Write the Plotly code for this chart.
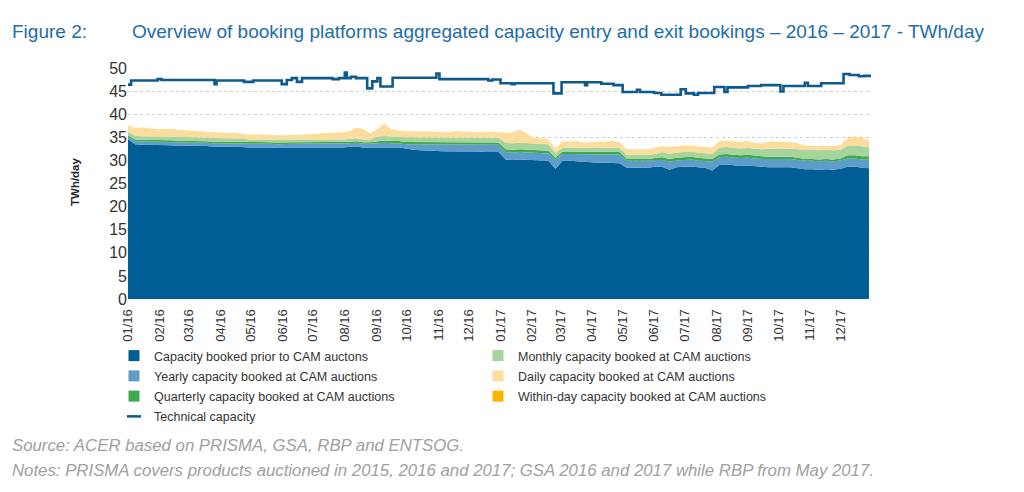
import pandas as pd
import plotly.graph_objects as go

# ---------------- data ----------------
week_start = "2016-01-01"
n_weeks = 105
dates = pd.date_range(week_start, periods=n_weeks, freq="7D")

prior = [34.6, 33.5, 33.4, 33.4, 33.3, 33.3, 33.3, 33.2, 33.2, 33.2, 33.1, 33.1, 33.0,
         33.0, 33.0, 33.0, 32.9, 32.8, 32.8, 32.8, 32.8, 32.7, 32.8, 32.8, 32.8, 32.8,
         32.8, 32.8, 32.8, 32.8, 32.8, 32.9, 33.0, 32.8, 32.8, 32.8, 32.9, 32.8, 32.8,
         32.6, 32.3, 32.2, 32.2, 32.1, 32.0, 32.0, 32.0, 31.9, 31.9, 31.9, 31.8, 31.8,
         31.8, 30.2, 30.1, 30.2, 30.1, 30.0, 30.0, 29.9, 28.2, 29.9, 29.9, 29.8, 29.6,
         29.5, 29.5, 29.5, 29.5, 29.4, 28.4, 28.4, 28.3, 28.4, 28.6, 28.6, 28.0, 28.5,
         28.6, 28.7, 28.5, 28.4, 27.8, 29.0, 29.1, 28.9, 28.8, 28.9, 28.7, 28.6, 28.5,
         28.5, 28.4, 28.5, 28.3, 28.1, 28.1, 28.0, 28.1, 28.0, 28.2, 28.6, 28.7, 28.4,
         28.3]

yearly = [0.5, 0.7, 0.7, 0.7, 0.7, 0.7, 0.7, 0.7, 0.7, 0.7, 0.7, 0.7, 0.7,
          0.7, 0.7, 0.7, 0.7, 0.8, 0.8, 0.8, 0.8, 0.8, 0.8, 0.8, 0.8, 0.8,
          0.8, 0.8, 0.8, 0.8, 0.8, 0.8, 0.8, 0.8, 0.8, 0.9, 0.9, 0.9, 0.9,
          0.9, 1.2, 1.3, 1.3, 1.4, 1.4, 1.4, 1.5, 1.5, 1.5, 1.5, 1.6, 1.6,
          1.6, 1.6, 1.6, 1.6, 1.6, 1.6, 1.6, 1.6, 2.0, 1.5, 1.5, 1.6, 1.8,
          1.9, 1.9, 1.9, 1.9, 1.9, 1.5, 1.5, 1.5, 1.5, 1.5, 1.5, 1.7, 1.5,
          1.5, 1.5, 1.5, 1.5, 1.9, 1.7, 1.7, 1.7, 1.7, 1.7, 1.7, 1.7, 1.8,
          1.8, 1.8, 1.8, 1.8, 1.8, 1.8, 1.8, 1.8, 1.8, 1.8, 1.8, 1.7, 1.8,
          1.9]

quarterly = [0.35, 0.35, 0.35, 0.35, 0.35, 0.35, 0.35, 0.35, 0.35, 0.35, 0.35, 0.35, 0.35,
             0.35, 0.35, 0.35, 0.35, 0.35, 0.35, 0.35, 0.35, 0.35, 0.35, 0.35, 0.35, 0.35,
             0.35, 0.35, 0.35, 0.35, 0.35, 0.35, 0.35, 0.35, 0.35, 0.5, 0.5, 0.5, 0.5,
             0.5, 0.5, 0.5, 0.5, 0.5, 0.5, 0.5, 0.5, 0.5, 0.5, 0.5, 0.5, 0.5,
             0.5, 0.6, 0.6, 0.6, 0.6, 0.6, 0.6, 0.6, 0.4, 0.5, 0.5, 0.5, 0.5,
             0.5, 0.5, 0.5, 0.5, 0.5, 0.4, 0.4, 0.4, 0.4, 0.4, 0.6, 0.6, 0.6,
             0.6, 0.6, 0.6, 0.6, 0.6, 0.6, 0.6, 0.6, 0.6, 0.6, 0.6, 0.6, 0.5,
             0.5, 0.5, 0.5, 0.5, 0.4, 0.4, 0.4, 0.4, 0.4, 0.4, 0.7, 0.7, 0.7,
             0.7]

monthly = [0.8, 0.8, 0.8, 0.8, 0.8, 0.8, 0.8, 0.8, 0.8, 0.8, 0.8, 0.8, 0.8,
           0.8, 0.8, 0.8, 0.8, 0.6, 0.6, 0.6, 0.6, 0.6, 0.6, 0.6, 0.6, 0.6,
           0.6, 0.6, 0.6, 0.6, 0.6, 0.6, 0.6, 0.6, 0.6, 1.0, 1.0, 1.0, 1.0,
           1.0, 1.0, 1.0, 1.0, 1.0, 1.0, 1.0, 1.0, 1.0, 1.0, 1.0, 1.0, 1.0,
           1.0, 1.4, 1.4, 1.4, 1.4, 1.4, 1.4, 1.4, 1.0, 0.9, 0.9, 0.9, 0.9,
           0.9, 0.9, 0.9, 0.9, 0.9, 0.9, 0.9, 0.9, 0.9, 0.9, 1.1, 1.1, 1.1,
           1.1, 1.1, 1.1, 1.1, 1.1, 1.5, 1.5, 1.5, 1.5, 1.5, 1.5, 1.5, 1.8,
           1.8, 1.8, 1.8, 1.8, 2.0, 2.0, 2.0, 2.0, 2.0, 1.9, 2.1, 2.1, 2.1,
           2.0]

daily = [1.4, 1.6, 1.9, 1.7, 1.5, 1.6, 1.6, 1.5, 1.4, 1.3, 1.3, 1.2, 1.1,
         1.1, 1.0, 1.1, 1.0, 1.0, 1.1, 1.0, 0.9, 0.9, 0.9, 0.9, 1.0, 1.1,
         1.2, 1.3, 1.4, 1.4, 1.4, 1.6, 2.3, 2.2, 1.3, 1.5, 2.6, 1.4, 1.3,
         1.3, 1.3, 1.3, 1.2, 1.3, 1.2, 1.2, 1.3, 1.3, 1.2, 1.2, 1.2, 1.3,
         1.2, 2.1, 2.3, 2.8, 2.1, 1.3, 1.1, 1.0, 1.0, 1.2, 1.2, 1.4, 1.0,
         1.1, 1.2, 1.3, 1.4, 1.2, 1.2, 1.2, 1.3, 1.2, 1.3, 1.3, 1.4, 1.3,
         1.4, 1.3, 1.4, 1.3, 1.3, 1.3, 1.4, 1.3, 1.3, 1.4, 1.3, 1.3, 1.4,
         1.3, 1.4, 1.3, 1.3, 0.9, 0.8, 0.9, 0.8, 0.9, 1.0, 1.6, 2.0, 1.8,
         1.5]

within_day = [0.02, 0.02, 0.02, 0.02, 0.02, 0.02, 0.02, 0.02, 0.02, 0.02, 0.02, 0.02, 0.02,
              0.02, 0.02, 0.02, 0.02, 0.02, 0.02, 0.02, 0.02, 0.02, 0.02, 0.02, 0.02, 0.02,
              0.02, 0.02, 0.02, 0.02, 0.02, 0.02, 0.02, 0.02, 0.02, 0.02, 0.02, 0.02, 0.02,
              0.02, 0.02, 0.02, 0.02, 0.02, 0.02, 0.02, 0.02, 0.02, 0.02, 0.02, 0.02, 0.02,
              0.02, 0.02, 0.02, 0.02, 0.02, 0.02, 0.02, 0.02, 0.02, 0.02, 0.02, 0.02, 0.02,
              0.02, 0.02, 0.02, 0.02, 0.02, 0.02, 0.02, 0.02, 0.02, 0.02, 0.02, 0.02, 0.02,
              0.02, 0.02, 0.02, 0.02, 0.02, 0.02, 0.02, 0.02, 0.02, 0.02, 0.02, 0.02, 0.02,
              0.02, 0.02, 0.02, 0.02, 0.02, 0.02, 0.02, 0.02, 0.02, 0.02, 0.02, 0.02, 0.02,
              0.02]

tech_dates = ["2016-01-01", "2016-01-04", "2016-01-30", "2016-02-03", "2016-03-26",
              "2016-03-28", "2016-04-24", "2016-05-03", "2016-05-31", "2016-06-05",
              "2016-06-10", "2016-06-15", "2016-06-20", "2016-07-20", "2016-07-26",
              "2016-08-01", "2016-08-03", "2016-08-07", "2016-08-12", "2016-08-23",
              "2016-08-28", "2016-09-02", "2016-09-05", "2016-09-17", "2016-10-30",
              "2016-11-02", "2016-12-20", "2016-12-24", "2017-01-01", "2017-01-12",
              "2017-01-15", "2017-02-22", "2017-03-02", "2017-03-25", "2017-03-27",
              "2017-04-10", "2017-04-22", "2017-05-01", "2017-05-15", "2017-05-18",
              "2017-06-01", "2017-06-08", "2017-06-27", "2017-07-02", "2017-07-10",
              "2017-07-14", "2017-07-30", "2017-08-09", "2017-08-12", "2017-09-01",
              "2017-09-14", "2017-10-03", "2017-10-06", "2017-10-27", "2017-10-30",
              "2017-11-12", "2017-12-04", "2017-12-10", "2017-12-19", "2017-12-24",
              "2017-12-31"]
tech_capacity = [46.4, 47.3, 47.6, 47.4, 46.5,
                 47.3, 47.0, 47.3, 46.5, 47.4,
                 47.8, 47.0, 47.8, 47.6, 47.8,
                 49.0, 47.8, 48.1, 47.8, 45.6,
                 47.1, 47.8, 46.0, 47.9, 48.8,
                 47.6, 47.3, 47.5, 46.7, 46.5,
                 46.7, 44.5, 46.9, 46.3, 46.9,
                 46.6, 46.3, 44.8, 45.3, 44.8,
                 44.6, 44.2, 45.4, 44.5, 44.2,
                 44.6, 45.9, 44.8, 45.8, 46.1,
                 46.3, 44.9, 46.1, 46.8, 46.1,
                 46.7, 48.7, 48.5, 48.2, 48.3,
                 48.3]

series_names = ["Capacity booked prior to CAM auctons",
                "Yearly capacity booked at CAM auctions",
                "Quarterly capacity booked at CAM auctions",
                "Monthly capacity booked at CAM auctions",
                "Daily capacity booked at CAM auctions",
                "Within-day capacity booked at CAM auctions"]
tech_name = "Technical capacity"
series_colors = ["#005E95", "#5E9CC9", "#3FA94B", "#A7D39D", "#FCDD9E", "#F7B500"]
tech_color = "#0E5A8C"

month_ticks = pd.date_range("2016-01-01", "2017-12-01", freq="MS")

# ---------------- figure ----------------
fig = go.Figure()
for name, vals, col in zip(series_names,
                           [prior, yearly, quarterly, monthly, daily, within_day],
                           series_colors):
    fig.add_trace(go.Scatter(x=dates, y=vals, name=name, mode="lines",
                             line=dict(width=0, color=col), fillcolor=col,
                             stackgroup="cap", showlegend=False, hoverinfo="skip"))

fig.add_trace(go.Scatter(x=tech_dates, y=tech_capacity, name=tech_name, mode="lines",
                         line=dict(color=tech_color, width=2.6, shape="hv"),
                         showlegend=False))

# legend entries (two columns), each its own group so the group gap sets row spacing
for i in [0, 1, 2]:
    fig.add_trace(go.Scatter(x=[None], y=[None], mode="markers", name=series_names[i],
                             marker=dict(symbol="square", size=11, color=series_colors[i]),
                             legend="legend", legendgroup=f"g{i}"))
fig.add_trace(go.Scatter(x=[None], y=[None], mode="markers", name=tech_name,
                         marker=dict(symbol="line-ew", size=10,
                                     line=dict(width=2.5, color=tech_color)),
                         legend="legend", legendgroup="gt"))
for i in [3, 4, 5]:
    fig.add_trace(go.Scatter(x=[None], y=[None], mode="markers", name=series_names[i],
                             marker=dict(symbol="square", size=11, color=series_colors[i]),
                             legend="legend2", legendgroup=f"g{i}"))

# page body has an 8px margin: target (screen) pixels are shifted by OFF
OFF = 8
W, H = 1024, 492
L, T = 128 - OFF, 68 - OFF
pw, ph = 743, 231
R, B = W - L - pw, H - T - ph


def px(xs):
    return (xs - OFF - L) / pw


def py(ys):
    return (T + ph - (ys - OFF)) / ph


font = "Liberation Sans, Arial, sans-serif"
legend_font = dict(family=font, size=12.5, color="#333333")

fig.update_layout(
    width=W, height=H,
    margin=dict(l=L, r=R, t=T, b=B, autoexpand=False),
    paper_bgcolor="white", plot_bgcolor="white",
    font=dict(family=font, color="#333333"),
    xaxis=dict(type="date", range=["2016-01-01", "2017-12-31"],
               tickvals=month_ticks, tickformat="%m/%y", tickangle=-90,
               tickfont=dict(size=13, color="#333333"),
               showgrid=False, showline=False, zeroline=False,
               ticks="outside", ticklen=4, tickcolor="rgba(0,0,0,0)"),
    yaxis=dict(range=[0, 50], dtick=5, tick0=0,
               tickfont=dict(size=16, color="#333333"),
               showgrid=True, gridcolor="#CFCFCF", griddash="dot", gridwidth=1,
               zeroline=False, showline=False, ticks=""),
    legend=dict(x=px(114), xanchor="left", y=py(341), yanchor="top",
                orientation="v", font=legend_font, bgcolor="rgba(0,0,0,0)",
                traceorder="grouped", tracegroupgap=1.0, itemclick=False),
    legend2=dict(x=px(478), xanchor="left", y=py(341), yanchor="top",
                 orientation="v", font=legend_font, bgcolor="rgba(0,0,0,0)",
                 traceorder="grouped", tracegroupgap=1.0, itemclick=False),
    showlegend=True,
)

title_color = "#1D6DAA"
fig.add_annotation(text="Figure 2:", xref="paper", yref="paper", x=px(10), y=py(32),
                   xanchor="left", yanchor="middle", showarrow=False,
                   font=dict(family=font, size=19, color=title_color))
fig.add_annotation(text="Overview of booking platforms aggregated capacity entry and exit bookings – 2016 – 2017 - TWh/day",
                   xref="paper", yref="paper", x=px(130), y=py(32),
                   xanchor="left", yanchor="middle", showarrow=False,
                   font=dict(family=font, size=19, color=title_color))
fig.add_annotation(text="<b>TWh/day</b>", xref="paper", yref="paper", x=px(75), y=py(182),
                   xanchor="center", yanchor="middle", textangle=-90, showarrow=False,
                   font=dict(family=font, size=11.5, color="#222222"))
fig.add_annotation(text="<i>Source: ACER based on PRISMA, GSA, RBP and ENTSOG.</i>",
                   xref="paper", yref="paper", x=px(10), y=py(445),
                   xanchor="left", yanchor="middle", showarrow=False,
                   font=dict(family=font, size=16.8, color="#A0A0A0"))
fig.add_annotation(text="<i>Notes: PRISMA covers products auctioned in 2015, 2016 and 2017; GSA 2016 and 2017 while RBP from May 2017.</i>",
                   xref="paper", yref="paper", x=px(10), y=py(470),
                   xanchor="left", yanchor="middle", showarrow=False,
                   font=dict(family=font, size=16.8, color="#A0A0A0"))

fig.write_html("out.html")
